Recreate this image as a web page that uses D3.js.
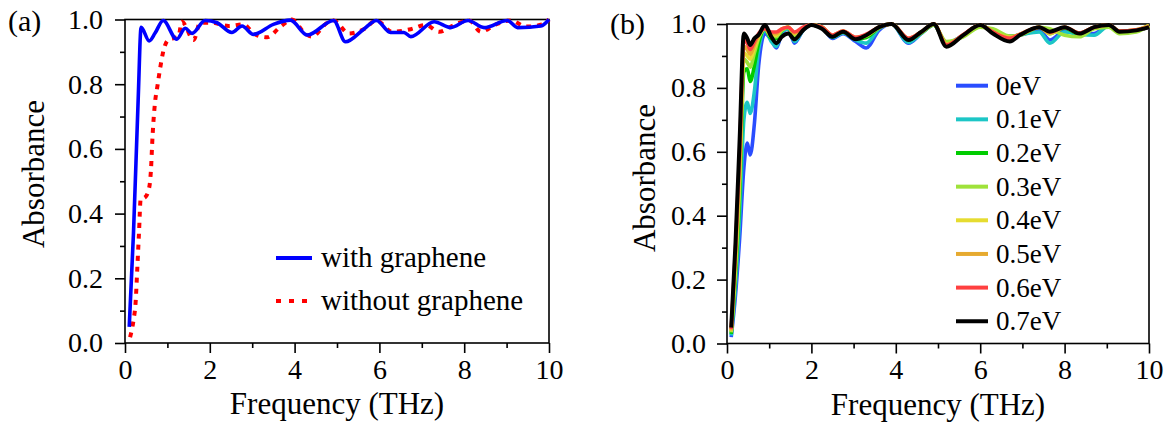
<!DOCTYPE html>
<html>
<head>
<meta charset="utf-8">
<script src="https://d3js.org/d3.v7.min.js"></script>
<style>
  body { margin: 0; background: #fff; }
  svg { display: block; }
</style>
</head>
<body>
<svg width="1167" height="422"></svg>
<script>
const FONT = "Liberation Serif";

// panel (a): with / without graphene
const freqWith = [0.1,0.2,0.31,0.38,0.57,0.71,0.9,1.22,1.42,1.58,1.89,2.17,2.52,2.76,3.03,3.5,3.9,4.3,4.92,5.2,5.63,5.93,6.26,6.58,6.74,7.29,7.68,8.09,8.47,9.02,9.26,9.81,10];
const absWith = [0.05,0.34,0.75,0.976,0.934,0.958,0.997,0.939,0.973,0.957,0.997,0.99,0.96,0.98,0.954,0.985,0.998,0.952,0.997,0.931,0.97,0.997,0.96,0.96,0.947,0.993,0.975,0.997,0.975,0.997,0.975,0.98,1.0];
const freqWithout = [0.12,0.2,0.25,0.29,0.33,0.37,0.47,0.57,0.61,0.65,0.71,0.76,0.83,0.9,1.02,1.26,1.34,1.62,1.77,2.05,2.44,2.8,3.03,3.35,3.66,3.94,4.21,4.41,4.77,4.92,5.28,5.63,5.93,6.3,6.74,7.09,7.41,7.76,8.12,8.39,8.75,9.1,9.46,9.85,10];
const absWithout = [0.018,0.07,0.125,0.23,0.34,0.445,0.45,0.48,0.53,0.64,0.746,0.79,0.85,0.9,0.937,0.947,0.993,0.937,0.99,0.99,0.98,0.985,0.957,0.945,0.977,1.0,0.962,0.947,0.99,0.997,0.957,0.97,0.997,0.962,0.97,0.983,0.962,0.983,0.997,0.962,0.985,0.997,0.978,0.985,1.0];

// panel (b): Fermi level sweep
const freqB = [0.1,0.2,0.3,0.4,0.48,0.55,0.65,0.75,0.9,1.05,1.17,1.3,1.45,1.6,1.8,2.0,2.25,2.5,2.75,3.05,3.3,3.6,3.9,4.3,4.6,4.9,5.2,5.6,6.0,6.3,6.7,6.95,7.4,7.65,8.0,8.35,8.7,9.05,9.3,9.7,10];
const ev00 = [0.02,0.15,0.33,0.55,0.627,0.59,0.69,0.87,0.97,0.95,0.925,0.97,0.985,0.94,0.98,0.997,0.99,0.955,0.97,0.945,0.925,0.98,1.0,0.94,0.97,0.997,0.94,0.965,0.997,0.975,0.962,0.966,0.98,0.95,0.978,0.968,0.97,0.995,0.975,0.98,0.99];
const ev01 = [0.025,0.18,0.4,0.7,0.755,0.72,0.79,0.92,0.98,0.945,0.93,0.975,0.985,0.945,0.98,0.997,0.99,0.958,0.972,0.95,0.94,0.985,1.0,0.942,0.97,0.997,0.94,0.965,0.997,0.975,0.96,0.966,0.975,0.94,0.975,0.968,0.965,0.995,0.975,0.98,0.99];
const ev02 = [0.03,0.21,0.46,0.85,0.86,0.82,0.87,0.94,0.985,0.955,0.955,0.98,0.99,0.96,0.985,0.997,0.99,0.96,0.975,0.953,0.958,0.988,1.0,0.95,0.972,0.997,0.94,0.962,0.995,0.978,0.96,0.966,0.99,0.97,0.988,0.968,0.99,0.995,0.975,0.98,0.995];
const ev03 = [0.035,0.23,0.5,0.89,0.88,0.865,0.91,0.955,0.985,0.96,0.96,0.98,0.99,0.965,0.985,0.997,0.99,0.962,0.975,0.955,0.962,0.988,1.0,0.952,0.972,0.997,0.945,0.96,0.99,0.985,0.962,0.965,0.99,0.985,0.965,0.96,0.985,0.99,0.97,0.975,0.995];
const ev04 = [0.038,0.25,0.53,0.91,0.9,0.89,0.925,0.96,0.985,0.965,0.965,0.985,0.99,0.97,0.988,0.997,0.99,0.963,0.977,0.956,0.964,0.99,1.0,0.953,0.975,1.0,0.937,0.965,0.997,0.975,0.958,0.968,0.99,0.97,0.99,0.97,0.99,0.997,0.978,0.982,0.995];
const ev05 = [0.04,0.27,0.56,0.93,0.92,0.905,0.935,0.965,0.985,0.97,0.97,0.985,0.99,0.972,0.988,0.997,0.99,0.965,0.978,0.958,0.966,0.99,1.0,0.955,0.975,1.0,0.935,0.966,0.997,0.975,0.957,0.968,0.99,0.972,0.99,0.972,0.99,0.997,0.978,0.982,0.995];
const ev06 = [0.045,0.29,0.6,0.95,0.94,0.92,0.945,0.97,0.985,0.975,0.975,0.985,0.99,0.975,0.99,0.997,0.99,0.965,0.978,0.958,0.968,0.99,1.0,0.955,0.975,1.0,0.935,0.967,0.997,0.975,0.955,0.968,0.99,0.975,0.99,0.972,0.99,0.997,0.978,0.982,0.99];
const ev07 = [0.05,0.31,0.64,0.97,0.955,0.934,0.955,0.966,0.997,0.96,0.94,0.96,0.97,0.952,0.98,0.997,0.985,0.96,0.976,0.952,0.965,0.99,1.0,0.95,0.975,1.0,0.929,0.965,0.997,0.97,0.945,0.966,0.99,0.976,0.99,0.97,0.99,0.997,0.976,0.98,0.99];

const evLabels = ["0eV","0.1eV","0.2eV","0.3eV","0.4eV","0.5eV","0.6eV","0.7eV"];
const evColors = ["#2a4dff","#1cc6c6","#00cc00","#9fe23a","#e6dc30","#e6aa30","#ff4040","#000000"];
const evSeries = [ev00, ev01, ev02, ev03, ev04, ev05, ev06, ev07];

const xTicks = [0,2,4,6,8,10];
const xMinor = [1,3,5,7,9];
const yTicks = [0,0.2,0.4,0.6,0.8,1.0];
const yMinor = [0.1,0.3,0.5,0.7,0.9];

const svg = d3.select("svg");

function label(g, size) {
  return g.append("text").attr("font-family", FONT).attr("font-size", size).attr("fill", "#000");
}

function panel(opt) {
  const x = d3.scaleLinear().domain([0, 10]).range([opt.left, opt.right]);
  const y = d3.scaleLinear().domain([0, 1]).range([opt.bottom, opt.top]);
  const g = svg.append("g");

  // frame
  g.append("rect")
    .attr("x", opt.left).attr("y", opt.top)
    .attr("width", opt.right - opt.left).attr("height", opt.bottom - opt.top)
    .attr("fill", "none").attr("stroke", "#000").attr("stroke-width", 1.6);

  const xAxis = d3.axisBottom(x).tickValues(xTicks).tickSize(10).tickPadding(6).tickFormat(d3.format("d"));
  const xAxisMinor = d3.axisBottom(x).tickValues(xMinor).tickSize(5).tickFormat("");
  const yAxis = d3.axisLeft(y).tickValues(yTicks).tickSize(10).tickPadding(opt.yPad).tickFormat(d3.format(".1f"));
  const yAxisMinor = d3.axisLeft(y).tickValues(yMinor).tickSize(5).tickFormat("");

  [[xAxis, "x"], [xAxisMinor, "x"], [yAxis, "y"], [yAxisMinor, "y"]].forEach(([ax, k]) => {
    const a = g.append("g")
      .attr("transform", k === "x" ? `translate(0,${opt.bottom})` : `translate(${opt.left},0)`)
      .call(ax);
    a.attr("font-family", FONT).attr("font-size", 28);
    a.select(".domain").remove();
    a.selectAll("line").attr("stroke", "#000").attr("stroke-width", 1.6);
    a.selectAll("text").attr("font-family", FONT).attr("font-size", 28).attr("fill", "#000");
  });

  label(g, 31)
    .attr("x", (opt.left + opt.right) / 2).attr("y", opt.bottom + 71)
    .attr("text-anchor", "middle")
    .text("Frequency (THz)");

  label(g, 31)
    .attr("transform", `translate(${opt.left - opt.yTitleOff},${opt.yTitleCy}) rotate(-90)`)
    .attr("text-anchor", "middle")
    .text("Absorbance");

  label(g, 30)
    .attr("x", opt.labelX).attr("y", opt.labelY)
    .text(opt.label);

  return { x, y, g };
}

// ---- panel (a)
const pa = panel({ left: 125, right: 549, top: 19.5, bottom: 343, yPad: 12, yTitleOff: 81, yTitleCy: 174,
                   label: "(a)", labelX: 8, labelY: 31 });
const lineA = d3.line().x(d => pa.x(d[0])).y(d => pa.y(d[1])).curve(d3.curveMonotoneX);

pa.g.append("path")
  .datum(d3.zip(freqWithout, absWithout))
  .attr("d", lineA).attr("fill", "none")
  .attr("stroke", "#ff0000").attr("stroke-width", 4)
  .attr("stroke-dasharray", "5,6");

pa.g.append("path")
  .datum(d3.zip(freqWith, absWith))
  .attr("d", lineA).attr("fill", "none")
  .attr("stroke", "#0000ff").attr("stroke-width", 3.6);

const legA = [["with graphene", "#0000ff", null], ["without graphene", "#ff0000", "5,8"]];
legA.forEach((d, i) => {
  const yy = 258 + i * 43;
  pa.g.append("line").attr("x1", 276).attr("x2", 312).attr("y1", yy).attr("y2", yy)
    .attr("stroke", d[1]).attr("stroke-width", 4).attr("stroke-dasharray", d[2]);
  label(pa.g, 29).attr("x", 321).attr("y", yy + 9).text(d[0]);
});

// ---- panel (b)
const pb = panel({ left: 727, right: 1149, top: 24, bottom: 343.5, yPad: 11, yTitleOff: 72, yTitleCy: 178,
                   label: "(b)", labelX: 610, labelY: 34 });
const lineB = d3.line().x(d => pb.x(d[0])).y(d => pb.y(d[1])).curve(d3.curveMonotoneX);

evSeries.forEach((s, i) => {
  pb.g.append("path")
    .datum(d3.zip(freqB, s))
    .attr("d", lineB).attr("fill", "none")
    .attr("stroke", evColors[i]).attr("stroke-width", i === 7 ? 4 : 3.6);
});

evLabels.forEach((lab, i) => {
  const yy = 85.7 + i * 33.65;
  pb.g.append("line").attr("x1", 956).attr("x2", 988).attr("y1", yy).attr("y2", yy)
    .attr("stroke", evColors[i]).attr("stroke-width", 4);
  label(pb.g, 27).attr("x", 996).attr("y", yy + 9).text(lab);
});
</script>
</body>
</html>
